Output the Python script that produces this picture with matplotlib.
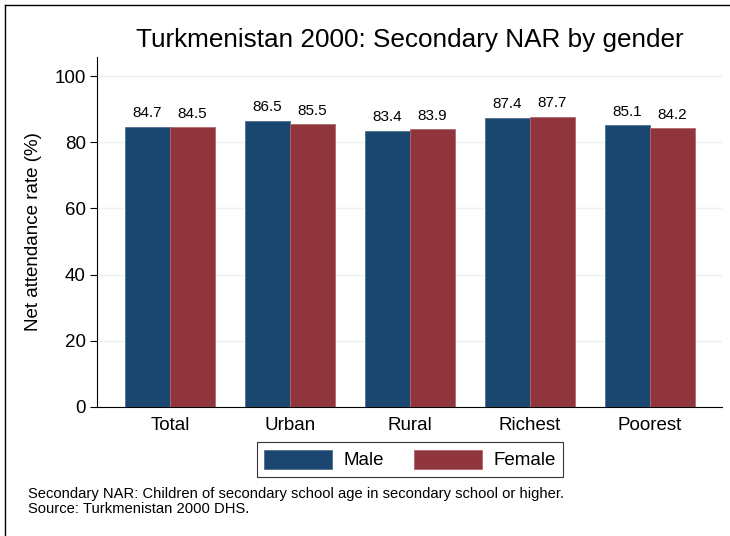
import matplotlib.pyplot as plt
import numpy as np
from matplotlib.lines import Line2D

plt.rcParams['font.family'] = ['Liberation Sans', 'DejaVu Sans']

categories = ["Total", "Urban", "Rural", "Richest", "Poorest"]
male = [84.7, 86.5, 83.4, 87.4, 85.1]
female = [84.5, 85.5, 83.9, 87.7, 84.2]
yticks = [0, 20, 40, 60, 80, 100]

c_male = "#1a476f"
c_female = "#90353b"

fig = plt.figure(figsize=(7.3, 5.36), dpi=100)
ax = fig.add_axes([0.1329, 0.2407, 0.8561, 0.653])

x = np.arange(len(categories))
w = 0.375
b1 = ax.bar(x - w / 2, male, w, color=c_male, edgecolor="#4f6f8f", linewidth=0.6, label="Male", zorder=3)
b2 = ax.bar(x + w / 2, female, w, color=c_female, edgecolor="#b06a6f", linewidth=0.6, label="Female", zorder=3)

# value labels above bars
for rect, v in zip(b1, male):
    ax.text(rect.get_x() + rect.get_width() / 2, v + 2.0, f"{v:.1f}", ha="center", va="bottom", fontsize=11)
for rect, v in zip(b2, female):
    ax.text(rect.get_x() + rect.get_width() / 2, v + 2.0, f"{v:.1f}", ha="center", va="bottom", fontsize=11)

ax.set_xlim(-0.608, 4.6)
ax.set_ylim(0, 105.8)
ax.set_yticks(yticks)
ax.set_yticklabels([str(t) for t in yticks], fontsize=13.5)
ax.set_xticks(x)
ax.set_xticklabels(categories, fontsize=13.5)
ax.tick_params(axis="x", length=0, pad=7)
ax.tick_params(axis="y", length=5, width=0.8, pad=3)
ax.yaxis.grid(True, color="#eaf2f3", linewidth=1.0, zorder=0)
ax.set_axisbelow(True)
for s in ["top", "right"]:
    ax.spines[s].set_visible(False)
ax.spines["left"].set_linewidth(0.8)
ax.spines["bottom"].set_linewidth(0.8)
ax.set_ylabel("Net attendance rate (%)", fontsize=13.5, labelpad=9)

fig.suptitle("Turkmenistan 2000: Secondary NAR by gender", x=0.562, y=0.948, fontsize=18.8)

leg = ax.legend(loc="center", bbox_to_anchor=(0.5617, 0.1427), bbox_transform=fig.transFigure,
                ncol=2, fontsize=13.5, frameon=True, fancybox=False, edgecolor="black",
                handlelength=3.6, handleheight=1.2, columnspacing=1.6, handletextpad=0.64,
                borderpad=0.4)
leg.get_frame().set_linewidth(0.8)

fig.text(0.038, 0.064, "Secondary NAR: Children of secondary school age in secondary school or higher.\n"
         "Source: Turkmenistan 2000 DHS.", fontsize=10.6, ha="left", va="center", linespacing=1.05)

# partial frame around the figure
fig.add_artist(Line2D([0.007, 1.0], [0.991, 0.991], color="black", linewidth=1.0, transform=fig.transFigure))
fig.add_artist(Line2D([0.007, 0.007], [0.0, 0.991], color="black", linewidth=1.0, transform=fig.transFigure))

fig.savefig("out.png", dpi=100)
